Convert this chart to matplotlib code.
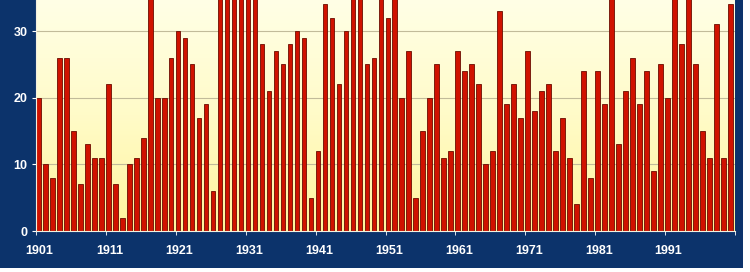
import matplotlib.pyplot as plt
import matplotlib.patches as mpatches
import numpy as np

FIG_BLUE = "#0C336B"
BAR_RED = "#D01200"
BAR_EDGE = "#6A0C00"
GRID_TAN = "#C2BB9A"

years = list(range(1901, 2001))
# values above ~34.6 are cut off at the top of the plot, so those are guesses
values = [
    20, 10, 8, 26, 26, 15, 7, 13, 11, 11,      # 1901-1910
    22, 7, 2, 10, 11, 14, 37, 20, 20, 26,      # 1911-1920
    30, 29, 25, 17, 19, 6, 38, 37, 39, 36,     # 1921-1930
    38, 37, 28, 21, 27, 25, 28, 30, 29, 5,     # 1931-1940
    12, 34, 32, 22, 30, 37, 38, 25, 26, 36,    # 1941-1950
    32, 37, 20, 27, 5, 15, 20, 25, 11, 12,     # 1951-1960
    27, 24, 25, 22, 10, 12, 33, 19, 22, 17,    # 1961-1970
    27, 18, 21, 22, 12, 17, 11, 4, 24, 8,      # 1971-1980
    24, 19, 37, 13, 21, 26, 19, 24, 9, 25,     # 1981-1990
    20, 38, 28, 37, 25, 15, 11, 31, 11, 34,    # 1991-2000
]
label_years = list(range(1901, 2001, 10))
y_ticks = [0, 10, 20, 30]

fig = plt.figure(figsize=(7.5, 2.72), dpi=100, facecolor="white")
# dark blue panel, leaving a thin white strip on the right and bottom
fig.patches.append(mpatches.Rectangle((0, 4 / 272), 743 / 750, 1 - 4 / 272,
                                      transform=fig.transFigure,
                                      facecolor=FIG_BLUE, edgecolor="none", zorder=-10))

ax = fig.add_axes([36 / 750, 41 / 272, 699 / 750, 231 / 272])
ax.set_zorder(5)
ax.set_xlim(1900.5, 2000.5)
ax.set_ylim(0, 34.65)

# vertical yellow gradient behind the bars
grad = np.linspace(0, 1, 256).reshape(-1, 1)
cmap = plt.matplotlib.colors.LinearSegmentedColormap.from_list(
    "bg", ["#FFF59C", "#FFFBC8", "#FFFFE6"])
ax.imshow(grad, extent=(1900.5, 2000.5, 0, 34.65), origin="lower",
          aspect="auto", cmap=cmap, zorder=0)

for y in y_ticks[1:]:
    ax.axhline(y, color=GRID_TAN, linewidth=0.8, zorder=1)

ax.bar(np.array(years) - 0.5, values, width=0.67, align="edge",
       color=BAR_RED, edgecolor=BAR_EDGE, linewidth=0.6, zorder=2)

ax.set_xticks(label_years)
ax.set_xticklabels([str(y) for y in label_years])
ax.set_xticks([y - 0.5 for y in label_years] + [2000.5], minor=True)
ax.tick_params(axis="x", which="major", length=0, pad=10,
               labelsize=9, labelcolor="white")
ax.tick_params(axis="x", which="minor", length=3, color="white", direction="out")
ax.set_yticks(y_ticks)
ax.tick_params(axis="y", length=3, color="white", direction="out",
               labelsize=9, labelcolor="white", pad=3)
for lab in ax.get_xticklabels() + ax.get_yticklabels():
    lab.set_fontweight("bold")
    lab.set_family("Liberation Sans")

for side in ["top", "right"]:
    ax.spines[side].set_visible(False)
for side in ["left", "bottom"]:
    ax.spines[side].set_color("#F4F0E0")
    ax.spines[side].set_linewidth(0.8)

fig.savefig("out.png", dpi=100, facecolor=fig.get_facecolor())
